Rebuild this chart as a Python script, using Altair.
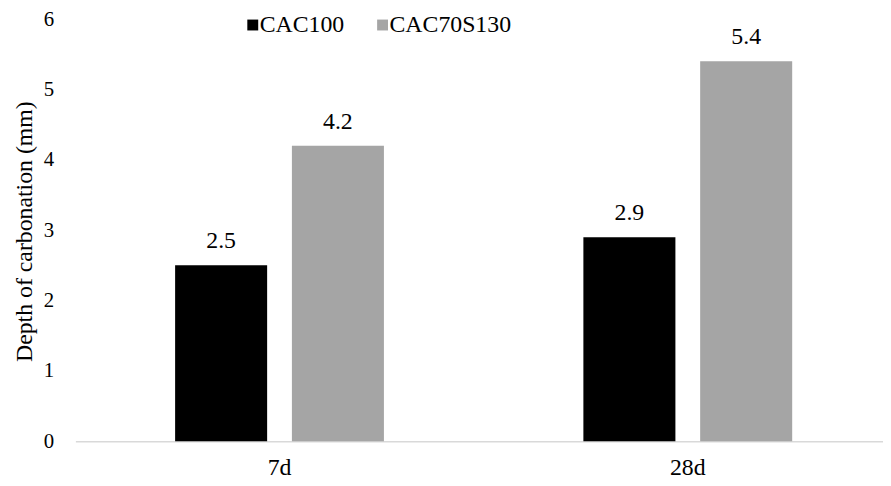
import altair as alt
import pandas as pd

ages = ["7d", "7d", "28d", "28d"]
mixes = ["CAC100", "CAC70S130", "CAC100", "CAC70S130"]
depths = [2.5, 4.2, 2.9, 5.4]
labels = ["2.5", "4.2", "2.9", "5.4"]

df = pd.DataFrame({"age": ages, "mix": mixes, "depth": depths, "label": labels})

FONT = "Liberation Serif, Times New Roman, DejaVu Serif, serif"
x_enc = alt.X("age:N", sort=["7d", "28d"], title=None,
              scale=alt.Scale(range=[0, 824], paddingInner=0, paddingOuter=0),
              axis=alt.Axis(labelAngle=0, ticks=False, domainColor="#d9d9d9", domainWidth=1.5,
                            labelFont=FONT, labelFontSize=24, labelColor="#000000",
                            labelPadding=15, grid=False))
xoff = alt.XOffset("mix:N", sort=["CAC100", "CAC70S130"],
                   scale=alt.Scale(paddingInner=0.212, paddingOuter=0.854))

bars = alt.Chart(df).mark_bar().encode(
    x=x_enc,
    xOffset=xoff,
    y=alt.Y("depth:Q", scale=alt.Scale(domain=[0, 6]),
            axis=alt.Axis(values=[0, 1, 2, 3, 4, 5, 6], format="d", domain=False, ticks=False, grid=False,
                          labelFont=FONT, labelFontSize=21, labelColor="#000000", labelPadding=22,
                          title="Depth of carbonation (mm)", titleFont=FONT, titleFontSize=24,
                          titleFontWeight="normal", titleColor="#000000", titleX=-44, titleY=214,
                          titleBaseline="alphabetic")),
    color=alt.Color("mix:N", sort=["CAC100", "CAC70S130"],
                    scale=alt.Scale(domain=["CAC100", "CAC70S130"], range=["#000000", "#a5a5a5"]),
                    legend=alt.Legend(title=None, orient="none", direction="horizontal",
                                      legendX=167, legendY=-6, symbolType="square", symbolSize=121,
                                      symbolStrokeWidth=0, labelFont=FONT, labelFontSize=24,
                                      labelColor="#000000", labelOffset={"expr": "-5"}, columnPadding=26)),
)

text = alt.Chart(df).mark_text(font=FONT, fontSize=24, color="#000000", baseline="alphabetic", dy=-17).encode(
    x=alt.X("age:N", sort=["7d", "28d"]),
    xOffset=alt.XOffset("mix:N", sort=["CAC100", "CAC70S130"]),
    y="depth:Q",
    text="label:N",
)

chart = (bars + text).properties(
    width=815, height=426,
    autosize=alt.AutoSizeParams(type="none"),
    padding={"left": 68, "top": 9, "right": 0, "bottom": 40},
).configure_view(stroke=None)

chart.save("out.html", embed_options={"renderer": "svg", "actions": False})
